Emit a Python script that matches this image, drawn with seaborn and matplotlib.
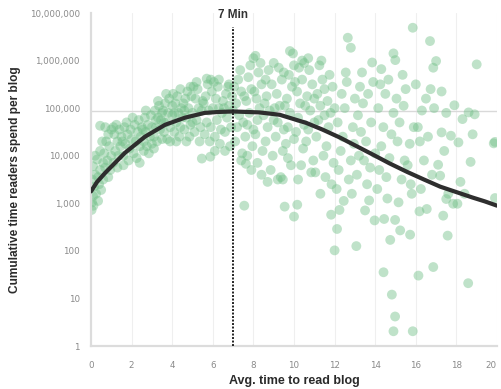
import numpy as np
import pandas as pd
import matplotlib
matplotlib.use("Agg")
import matplotlib.pyplot as plt
from matplotlib.ticker import FixedLocator, NullLocator
import seaborn as sns

# ---- data: (avg. read time in minutes, log10 of cumulative time) ----
short_reads = [
    (0.03, 2.86), (0.05, 3.02), (0.1, 3.15), (0.15, 3.35), (0.05, 3.5), (0.2, 3.6), (0.1, 3.78),
    (0.3, 3.92), (0.25, 3.2), (0.35, 3.05), (0.4, 3.4), (0.45, 3.7), (0.2, 4.0), (0.45, 4.1),
    (0.35, 3.55), (0.5, 3.28), (0.45, 4.63), (0.7, 4.6), (0.6, 3.5), (0.12, 2.95),
    (0.7, 3.75), (0.8, 3.9), (0.65, 4.05), (0.9, 4.2), (0.75, 4.3), (1.0, 4.0), (0.95, 3.7),
    (0.55, 4.3), (0.85, 4.45), (1.0, 4.55), (0.6, 3.85), (0.85, 3.55),
    (1.1, 3.85), (1.2, 4.1), (1.3, 4.3), (1.15, 4.45), (1.4, 4.55), (1.35, 4.0), (1.45, 4.2),
    (1.25, 4.65), (1.5, 4.4), (1.1, 4.6), (1.3, 3.75),
    (1.6, 4.0), (1.7, 4.25), (1.8, 4.45), (1.65, 4.6), (1.9, 4.15), (2.0, 4.35), (1.75, 4.7),
    (1.95, 4.55), (1.55, 4.3), (1.6, 3.8), (1.85, 3.9),
    (2.1, 4.05), (2.2, 4.3), (2.3, 4.5), (2.15, 4.65), (2.4, 4.2), (2.45, 4.4), (2.35, 4.75),
    (2.5, 4.6), (2.25, 3.95), (2.05, 4.8), (2.4, 3.85), (2.6, 4.1),
    (2.6, 4.3), (2.7, 4.5), (2.8, 4.65), (2.65, 4.8), (2.9, 4.4), (3.0, 4.6), (2.75, 4.2),
    (2.95, 4.85), (2.55, 4.55), (2.85, 4.05), (3.0, 4.25), (2.7, 4.95),
    (3.1, 4.4), (3.2, 4.6), (3.3, 4.8), (3.15, 4.95), (3.4, 4.55), (3.45, 4.75), (3.25, 4.3),
    (3.35, 5.05), (3.5, 4.9), (3.1, 4.15), (3.3, 5.15), (3.5, 4.35), (3.2, 4.75),
    (3.6, 4.5), (3.7, 4.7), (3.8, 4.9), (3.65, 5.1), (3.9, 4.6), (4.0, 4.85), (3.75, 4.35),
    (3.85, 5.2), (3.55, 4.95), (4.0, 5.05), (3.9, 4.3), (3.7, 5.3), (3.6, 4.7),
    (4.1, 4.5), (4.2, 4.7), (4.3, 4.9), (4.15, 5.1), (4.4, 4.6), (4.45, 5.0), (4.25, 5.25),
    (4.35, 4.4), (4.5, 4.8), (4.05, 5.3), (4.2, 4.3), (4.4, 5.4), (4.1, 4.9),
    (4.6, 4.55), (4.7, 4.8), (4.8, 5.0), (4.65, 5.2), (4.9, 4.65), (5.0, 4.9), (4.75, 5.35),
    (4.85, 4.4), (4.55, 5.1), (4.95, 5.25), (4.7, 4.3), (4.9, 5.45), (4.6, 4.95),
    (5.1, 4.5), (5.2, 4.75), (5.3, 5.0), (5.15, 5.2), (5.4, 4.6), (5.45, 4.95), (5.25, 5.4),
    (5.35, 4.3), (5.5, 5.15), (5.05, 5.45), (5.46, 3.94), (5.2, 5.55), (5.0, 4.7),
    (5.6, 4.45), (5.7, 4.7), (5.8, 4.95), (5.65, 5.25), (5.9, 4.6), (6.0, 5.0), (5.75, 5.5),
    (5.85, 4.3), (5.55, 5.1), (5.95, 5.35), (5.88, 3.98), (5.7, 5.62), (5.9, 5.6),
    (6.1, 4.4), (6.2, 4.75), (6.3, 5.0), (6.15, 5.2), (6.4, 4.55), (6.45, 4.9), (6.25, 5.45),
    (6.35, 4.25), (6.5, 5.15), (6.05, 5.55), (6.3, 5.6), (6.1, 4.1),
    (6.6, 4.5), (6.7, 4.8), (6.8, 5.05), (6.65, 5.3), (6.9, 4.6), (7.0, 4.95), (6.75, 5.45),
    (6.85, 4.2), (6.55, 5.0), (6.95, 5.25), (6.6, 4.1), (6.8, 5.5),
]

medium_reads = [
    (7.1, 4.3), (7.2, 4.6), (7.3, 4.85), (7.15, 5.1), (7.4, 5.35), (7.25, 5.6), (7.45, 4.05),
    (7.35, 5.8), (7.05, 5.45), (7.5, 4.7), (7.55, 2.95), (7.63, 3.83), (7.4, 3.9),
    (7.6, 4.4), (7.7, 4.65), (7.8, 4.9), (7.65, 5.15), (7.9, 5.4), (7.75, 5.65), (7.95, 4.2),
    (7.85, 5.9), (7.55, 5.25), (8.0, 4.55), (7.7, 4.0), (8.0, 6.05), (7.9, 3.7),
    (8.1, 4.45), (8.2, 4.75), (8.3, 5.0), (8.15, 5.2), (8.4, 5.5), (8.25, 5.75), (8.45, 4.1),
    (8.35, 5.95), (8.05, 5.35), (8.5, 4.85), (8.2, 3.85), (8.4, 3.6), (8.1, 6.1),
    (8.6, 4.3), (8.7, 4.6), (8.8, 4.95), (8.65, 5.25), (8.9, 5.5), (8.75, 5.8), (8.95, 4.0),
    (8.85, 3.7), (8.55, 5.1), (9.0, 4.75), (8.7, 3.45), (9.0, 5.95), (8.6, 5.6),
    (9.1, 4.4), (9.2, 4.7), (9.3, 5.05), (9.15, 5.3), (9.4, 5.6), (9.25, 5.85), (9.45, 4.1),
    (9.35, 3.55), (9.05, 5.0), (9.5, 4.55), (9.2, 3.5), (9.45, 3.5), (9.5, 5.75), (9.54, 2.93),
    (9.6, 4.25), (9.7, 4.6), (9.8, 4.9), (9.65, 5.2), (9.9, 5.45), (9.75, 5.7), (9.95, 6.15),
    (9.85, 3.8), (9.55, 5.05), (10.0, 4.35), (9.7, 3.95), (10.0, 5.9), (10.0, 2.72),
    (10.16, 2.97), (9.8, 6.2),
    (10.1, 4.5), (10.2, 4.8), (10.3, 5.1), (10.15, 5.35), (10.4, 5.6), (10.25, 5.85),
    (10.45, 4.15), (10.35, 3.8), (10.05, 5.55), (10.5, 4.65), (10.2, 3.5), (10.5, 5.95), (10.4, 6.0),
    (10.6, 4.3), (10.7, 4.55), (10.8, 4.95), (10.65, 5.25), (10.9, 5.5), (10.75, 5.8),
    (10.95, 3.9), (10.85, 3.65), (10.55, 5.05), (11.0, 4.7), (10.7, 6.05), (11.0, 5.2),
    (11.1, 4.4), (11.2, 4.75), (11.3, 5.05), (11.15, 5.3), (11.4, 5.6), (11.25, 5.9),
    (11.45, 4.0), (11.3, 3.2), (11.05, 3.65), (11.5, 4.85), (11.35, 6.0), (11.5, 5.4),
    (11.6, 4.2), (11.7, 4.6), (11.8, 4.9), (11.65, 5.15), (11.9, 5.45), (11.75, 5.7),
    (11.95, 3.85), (11.83, 2.76), (11.55, 3.55), (12.0, 2.01), (12.0, 5.0), (11.85, 3.4),
]

long_reads = [
    (12.12, 2.46), (12.24, 2.86), (12.1, 3.3), (12.2, 3.7), (12.3, 4.1), (12.4, 4.4), (12.15, 4.7),
    (12.5, 5.0), (12.35, 5.3), (12.6, 5.55), (12.65, 6.48), (12.8, 6.27), (12.7, 3.5), (12.8, 3.9),
    (12.9, 4.6), (12.55, 5.75), (13.0, 5.2), (12.85, 3.2), (12.95, 4.25), (12.45, 3.05),
    (13.07, 2.10), (13.1, 3.6), (13.2, 4.0), (13.3, 4.5), (13.15, 4.85), (13.4, 5.1), (13.25, 5.45),
    (13.5, 2.85), (13.7, 3.06), (13.6, 3.4), (13.45, 3.9), (13.55, 4.3), (13.8, 4.7), (13.65, 5.3),
    (13.85, 5.96), (13.9, 5.55), (13.97, 2.64), (13.75, 3.75), (14.0, 4.05), (13.35, 5.75),
    (14.3, 5.82), (14.44, 2.67), (14.41, 1.55), (14.1, 3.3), (14.2, 3.7), (14.3, 4.2), (14.4, 4.6),
    (14.15, 5.0), (14.5, 5.3), (14.6, 3.1), (14.7, 3.95), (14.74, 2.23), (14.82, 1.08),
    (14.9, 0.31), (14.98, 0.62), (14.9, 6.15), (14.99, 6.01), (14.98, 2.65), (14.8, 4.45),
    (14.65, 5.6), (14.55, 3.55), (14.9, 4.9), (14.25, 5.5),
    (15.15, 3.02), (15.23, 2.43), (15.72, 2.34), (15.8, 3.2), (15.3, 3.5), (15.85, 6.69),
    (15.85, 0.31), (15.1, 4.3), (15.2, 4.7), (15.4, 5.05), (15.5, 5.4), (15.6, 3.8), (15.7, 4.25),
    (15.9, 4.6), (15.35, 5.7), (15.75, 3.4), (15.45, 3.9), (15.05, 5.2),
    (16.13, 1.48), (16.18, 2.83), (16.54, 2.88), (16.7, 6.41), (16.73, 5.40), (16.86, 5.85),
    (16.86, 1.66), (16.2, 4.3), (16.1, 4.6), (16.3, 4.95), (16.5, 5.2), (16.4, 3.9), (16.6, 4.4),
    (16.8, 3.6), (16.9, 5.0), (16.25, 3.3), (16.0, 5.5),
    (17.0, 5.99), (17.27, 5.35), (17.27, 4.49), (17.1, 3.81), (17.2, 3.58), (17.5, 3.09),
    (17.35, 2.74), (17.57, 2.32), (17.73, 4.42), (17.84, 2.99), (17.9, 5.06), (17.5, 4.9),
    (17.6, 3.2), (17.4, 4.1),
    (18.1, 4.28), (18.2, 3.45), (18.3, 4.77), (18.58, 1.32), (18.6, 4.91), (18.8, 4.45),
    (18.9, 4.87), (19.0, 5.92), (19.84, 4.26), (19.9, 3.11), (18.05, 2.99), (18.4, 3.2),
    (18.7, 3.87), (19.9, 4.29),
]

# fitted trend curve
trend_minutes = [0, 0.3, 0.7, 1.67, 2.66, 3.65, 4.63, 5.6, 6.3, 7.0, 8.3, 9.3, 10.6, 11.4,
                 12.27, 13.9, 14.7, 15.57, 16.4, 17.2, 18.8, 19.4, 20]
trend_log = [3.25, 3.45, 3.64, 4.06, 4.40, 4.65, 4.80, 4.90, 4.92, 4.93, 4.91, 4.86, 4.69, 4.55,
             4.38, 4.02, 3.84, 3.66, 3.5, 3.35, 3.12, 3.04, 2.95]

mean_line_value = 89000
marker_minute = 7
ytick_values = [1, 10, 100, 1000, 10000, 100000, 1000000, 10000000]
ytick_labels = ["1", "10", "100", "1,000", "10,000", "100,000", "1,000,000", "10,000,000"]
xtick_values = list(range(0, 21, 2))

# ---- build tables ----
pts = pd.DataFrame(short_reads + medium_reads + long_reads, columns=["minutes", "log_time"])
pts["cum_time"] = 10.0 ** pts["log_time"]
trend = pd.DataFrame({"minutes": trend_minutes, "cum_time": 10.0 ** np.array(trend_log)})

# ---- draw ----
sns.set_style("white")
plt.rcParams["font.family"] = ["Liberation Sans", "DejaVu Sans"]

fig = plt.figure(figsize=(5.01, 3.89), dpi=100)
ax = fig.add_axes([91 / 501, 43 / 389, 406 / 501, 333 / 389])
ax.set_yscale("log")
ax.set_xlim(0, 20)
ax.set_ylim(1, 10 ** 7)

for xv in xtick_values[1:]:
    ax.axvline(xv, color="#efefef", lw=0.8, zorder=0)
ax.axhline(mean_line_value, color="#d9d9d9", lw=1.0, zorder=1)

sns.scatterplot(data=pts, x="minutes", y="cum_time", ax=ax, color="#72c088",
                alpha=0.45, s=50, edgecolor="none", linewidth=0, zorder=2, legend=False)
sns.lineplot(data=trend, x="minutes", y="cum_time", ax=ax, color="#2e2e2e",
             lw=3.0, zorder=3, legend=False)

ax.axvline(marker_minute, ymin=0, ymax=0.958, color="#222222", lw=1.4,
           ls=(0, (1, 0.8)), zorder=4)
ax.text(marker_minute, 10 ** 6.96, "7 Min", ha="center", va="center",
        fontsize=8.5, fontweight="bold", color="#333333", zorder=5)

ax.yaxis.set_major_locator(FixedLocator(ytick_values))
ax.yaxis.set_minor_locator(NullLocator())
ax.set_yticklabels(ytick_labels)
ax.set_xticks(xtick_values)
ax.set_xticklabels([str(v) for v in xtick_values])

for side in ["top", "right"]:
    ax.spines[side].set_visible(False)
for side in ["left", "bottom"]:
    ax.spines[side].set_color("#dcdcdc")
    ax.spines[side].set_linewidth(1.6)

ax.tick_params(axis="both", which="major", length=3, width=1, color="#cfcfcf",
               labelsize=6.3, labelcolor="#8a8a8a")
ax.tick_params(axis="y", pad=5)
ax.tick_params(axis="x", pad=8)
for lab in ax.get_xticklabels() + ax.get_yticklabels():
    lab.set_family(["DejaVu Sans"])
ax.get_xticklabels()[-1].set_horizontalalignment("right")

ax.set_xlabel("Avg. time to read blog", fontsize=9, fontweight="bold", color="#2a2a2a")
ax.set_ylabel("Cumulative time readers spend per blog", fontsize=8.6, fontweight="bold",
              color="#2a2a2a")
ax.xaxis.set_label_coords(0.5, -0.087)
ax.yaxis.set_label_coords(-0.172, 0.5)

fig.savefig("out.png", dpi=100)
